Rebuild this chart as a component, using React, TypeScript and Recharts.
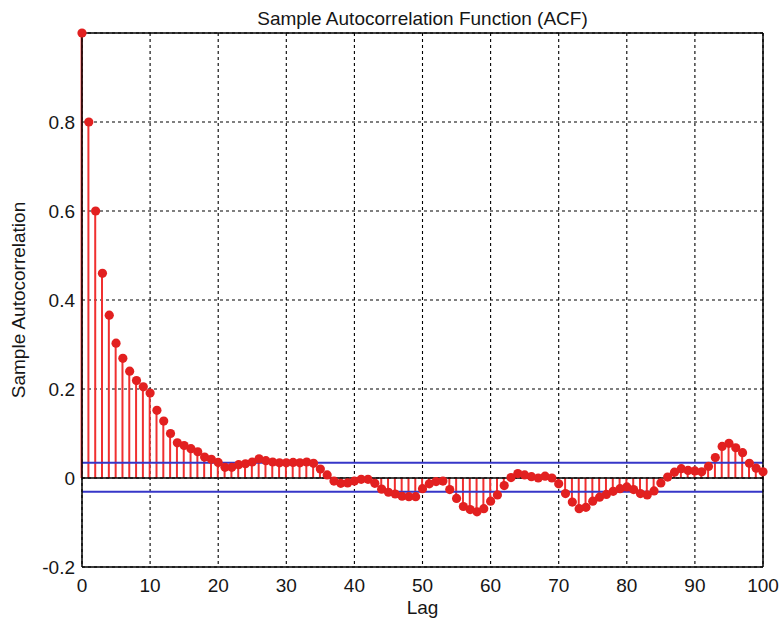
import {
  ComposedChart,
  Bar,
  Line,
  XAxis,
  YAxis,
  CartesianGrid,
  ReferenceLine,
  Label,
} from "recharts";

// sample autocorrelation for lags 0..100
const acfValues = [
  1.0, 0.8, 0.6, 0.46, 0.366, 0.303, 0.269, 0.24, 0.219, 0.205,
  0.191, 0.152, 0.128, 0.1, 0.079, 0.073, 0.066, 0.059, 0.047, 0.042,
  0.035, 0.024, 0.024, 0.03, 0.032, 0.036, 0.043, 0.039, 0.036, 0.034,
  0.034, 0.035, 0.034, 0.036, 0.033, 0.02, 0.007, -0.007, -0.012, -0.011,
  -0.007, -0.003, -0.003, -0.012, -0.025, -0.032, -0.036, -0.041, -0.042, -0.042,
  -0.024, -0.013, -0.008, -0.007, -0.026, -0.046, -0.064, -0.071, -0.076, -0.069,
  -0.052, -0.038, -0.017, 0.001, 0.01, 0.007, 0.003, 0.0, 0.004, 0.0,
  -0.013, -0.035, -0.054, -0.069, -0.066, -0.052, -0.043, -0.037, -0.03, -0.024,
  -0.02, -0.026, -0.035, -0.038, -0.029, -0.011, 0.002, 0.013, 0.021, 0.017,
  0.016, 0.014, 0.026, 0.046, 0.071, 0.078, 0.068, 0.057, 0.033, 0.022,
  0.014,
];

const lagTicks = [0, 10, 20, 30, 40, 50, 60, 70, 80, 90, 100];
const acfTicks = [-0.2, 0, 0.2, 0.4, 0.6, 0.8, 1];

// confidence bounds
const upperBound = 0.034;
const lowerBound = -0.031;

const data = acfValues.map((acf, lag) => ({ lag, acf }));

const font = '"Liberation Sans", Arial, sans-serif';
const textColor = "#161616";

export default function App() {
  return (
    <div
      style={{
        position: "absolute",
        left: 0,
        top: 0,
        width: 779,
        height: 626,
        background: "#fff",
        fontFamily: font,
      }}
    >
      <div
        style={{
          position: "absolute",
          left: 82,
          width: 681,
          top: 9,
          textAlign: "center",
          fontSize: 19,
          lineHeight: "19px",
          color: textColor,
        }}
      >
        Sample Autocorrelation Function (ACF)
      </div>
      <ComposedChart
        width={779}
        height={626}
        data={data}
        margin={{ top: 33, right: 16, bottom: 0, left: 0 }}
        style={{ fontFamily: font }}
      >
        <CartesianGrid
          xAxisId="lab"
          yAxisId="lab"
          stroke="#000"
          strokeWidth={1.1}
          strokeDasharray="3 3"
        />
        <XAxis
          xAxisId="lab"
          dataKey="lag"
          type="number"
          domain={[0, 100]}
          ticks={lagTicks}
          interval={0}
          height={59}
          tickSize={0}
          tickMargin={12}
          tickLine={false}
          axisLine={{ stroke: "#000", strokeWidth: 1.5 }}
          tick={{ fill: textColor, fontSize: 19 }}
        >
          <Label
            value="Lag"
            position="insideBottom"
            offset={12}
            style={{ fontSize: 19, fill: textColor }}
          />
        </XAxis>
        <XAxis
          xAxisId="in"
          dataKey="lag"
          type="number"
          domain={[0, 100]}
          ticks={lagTicks}
          orientation="bottom"
          mirror
          tick={false}
          tickSize={7}
          tickLine={{ stroke: "#000" }}
          axisLine={false}
        />
        <XAxis
          xAxisId="top"
          dataKey="lag"
          type="number"
          domain={[0, 100]}
          ticks={lagTicks}
          orientation="top"
          mirror
          tick={false}
          tickSize={7}
          tickLine={{ stroke: "#000" }}
          axisLine={{ stroke: "#000", strokeWidth: 1.5 }}
        />
        <YAxis
          yAxisId="lab"
          type="number"
          domain={[-0.2, 1]}
          ticks={acfTicks}
          interval={0}
          width={82}
          tickSize={0}
          tickMargin={7}
          tickLine={false}
          axisLine={{ stroke: "#000", strokeWidth: 1.5 }}
          tick={{ fill: textColor, fontSize: 19 }}
          tickFormatter={(v: number) => (v === 1 ? "" : String(v))}
        >
          <Label
            value="Sample Autocorrelation"
            angle={-90}
            position="insideLeft"
            offset={18}
            style={{ fontSize: 19, fill: textColor, textAnchor: "middle" }}
          />
        </YAxis>
        <YAxis
          yAxisId="in"
          type="number"
          domain={[-0.2, 1]}
          ticks={acfTicks}
          orientation="left"
          mirror
          tick={false}
          tickSize={7}
          tickLine={{ stroke: "#000" }}
          axisLine={false}
        />
        <YAxis
          yAxisId="right"
          type="number"
          domain={[-0.2, 1]}
          ticks={acfTicks}
          orientation="right"
          mirror
          tick={false}
          tickSize={7}
          tickLine={{ stroke: "#000" }}
          axisLine={{ stroke: "#000", strokeWidth: 1.5 }}
        />
        <Bar
          xAxisId="lab"
          yAxisId="lab"
          dataKey="acf"
          barSize={2}
          fill="#f03030"
          isAnimationActive={false}
        />
        <ReferenceLine xAxisId="lab" yAxisId="lab" y={0} stroke="#000" strokeWidth={1.5} />
        <ReferenceLine xAxisId="lab" yAxisId="lab" y={upperBound} stroke="#3636c8" strokeWidth={2} />
        <ReferenceLine xAxisId="lab" yAxisId="lab" y={lowerBound} stroke="#3636c8" strokeWidth={2} />
        <Line
          xAxisId="lab"
          yAxisId="lab"
          dataKey="acf"
          stroke="none"
          dot={{ r: 4.6, fill: "#e22020", stroke: "none" }}
          activeDot={false}
          isAnimationActive={false}
        />
      </ComposedChart>
    </div>
  );
}
